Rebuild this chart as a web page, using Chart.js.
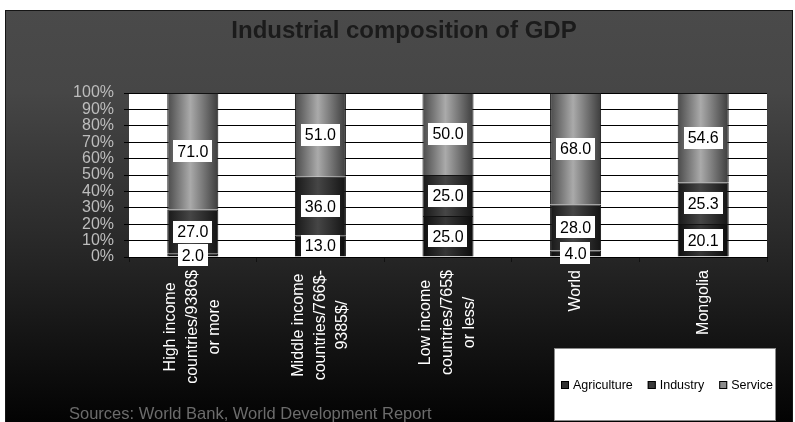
<!DOCTYPE html>
<html>
<head>
<meta charset="utf-8">
<script src="https://cdn.jsdelivr.net/npm/chart.js"></script>
<style>
  html, body { margin: 0; padding: 0; background: #fff; }
  #wrap { width: 795px; height: 422px; }
</style>
</head>
<body>
<div id="wrap"><canvas id="gdp" width="795" height="422"></canvas></div>
<script>
// chart values
const title = 'Industrial composition of GDP';
const source = 'Sources: World Bank, World Development Report';
const categories = [
  ['High income', 'countries/9386$', 'or more'],
  ['Middle income', 'countries/766$-', '9385$/'],
  ['Low income', 'countries/765$', 'or less/'],
  ['World'],
  ['Mongolia']
];
const agriculture = [2.0, 13.0, 25.0, 4.0, 20.1];
const industry = [27.0, 36.0, 25.0, 28.0, 25.3];
const service = [71.0, 51.0, 50.0, 68.0, 54.6];
const yTicks = [0, 10, 20, 30, 40, 50, 60, 70, 80, 90, 100];

const FONT = '"Liberation Sans", Arial, sans-serif';
const BAR_PCT = 0.4;

// cylinder look: horizontal gradient over each bar
function cylinder(stops, flat) {
  return function (ctx) {
    const chart = ctx.chart;
    const xs = chart.scales && chart.scales.x;
    if (!xs || !chart.chartArea || ctx.dataIndex === undefined) return flat;
    const cx = xs.getPixelForValue(ctx.dataIndex);
    const w = xs.width / categories.length * BAR_PCT;
    const g = chart.ctx.createLinearGradient(cx - w / 2, 0, cx + w / 2, 0);
    stops.forEach(s => g.addColorStop(s[0], s[1]));
    return g;
  };
}

const frame = {
  id: 'frame',
  beforeDraw(chart) {
    const c = chart.ctx;
    const a = chart.chartArea;
    c.save();
    c.fillStyle = '#fff';
    c.fillRect(0, 0, chart.width, chart.height);
    const g = c.createLinearGradient(0, 10, 0, 422);
    g.addColorStop(0, '#4a4a4a');
    g.addColorStop(0.2, '#464646');
    g.addColorStop(0.55, '#2a2a2a');
    g.addColorStop(0.8, '#141414');
    g.addColorStop(1, '#030303');
    c.fillStyle = g;
    c.fillRect(5, 10, 788, 412);
    c.strokeStyle = '#151515';
    c.lineWidth = 1;
    c.strokeRect(5.5, 10.5, 787, 412);
    c.fillStyle = '#fff';
    c.fillRect(a.left, a.top, a.right - a.left, a.bottom - a.top);
    // title
    c.font = 'bold 24px ' + FONT;
    c.fillStyle = '#1b1b1b';
    c.textAlign = 'center';
    c.textBaseline = 'middle';
    c.fillText(title, 404, 31);
    c.restore();
  },
  afterDatasetsDraw(chart) {
    const c = chart.ctx;
    c.save();
    c.font = '16px ' + FONT;
    c.textAlign = 'center';
    c.textBaseline = 'middle';
    chart.data.datasets.forEach((ds, i) => {
      chart.getDatasetMeta(i).data.forEach((el, j) => {
        const txt = ds.data[j].toFixed(1);
        const y = (el.y + el.base) / 2;
        const w = c.measureText(txt).width + 8;
        c.fillStyle = '#fff';
        c.fillRect(Math.round(el.x - w / 2), Math.round(y - 11), Math.round(w), 22);
        c.fillStyle = '#000';
        c.fillText(txt, el.x, y + 1);
      });
    });
    c.restore();
  },
  afterDraw(chart) {
    const c = chart.ctx;
    const xs = chart.scales.x;
    c.save();
    // rotated multi-line category labels
    c.font = '16px ' + FONT;
    c.fillStyle = '#fff';
    c.textAlign = 'center';
    c.textBaseline = 'middle';
    categories.forEach((lines, i) => {
      const cx = xs.getPixelForValue(i);
      const longest = Math.max(...lines.map(l => c.measureText(l).width));
      c.save();
      c.translate(cx, xs.top + 13 + longest / 2);
      c.rotate(-Math.PI / 2);
      lines.forEach((l, k) => c.fillText(l, 0, (k - (lines.length - 1) / 2) * 22));
      c.restore();
    });
    // source note
    c.font = '16.5px ' + FONT;
    c.fillStyle = '#6c6c6c';
    c.textAlign = 'left';
    c.textBaseline = 'alphabetic';
    c.fillText(source, 69, 419);
    // legend box
    c.fillStyle = '#fff';
    c.fillRect(554, 348, 222, 73);
    c.strokeStyle = '#8a8a8a';
    c.strokeRect(554.5, 348.5, 221, 72);
    c.font = '12.5px ' + FONT;
    c.textBaseline = 'middle';
    let x = 561;
    chart.data.datasets.forEach(ds => {
      c.fillStyle = ds.legendColor;
      c.fillRect(x, 381, 8, 8);
      c.strokeStyle = '#000';
      c.strokeRect(x + 0.5, 381.5, 7, 7);
      c.fillStyle = '#000';
      c.fillText(ds.label, x + 12, 386);
      x += 12 + c.measureText(ds.label).width + 15;
    });
    c.restore();
  }
};

new Chart(document.getElementById('gdp'), {
  type: 'bar',
  data: {
    labels: categories.map(l => l.join(' ')),
    datasets: [
      { label: 'Agriculture', data: agriculture, legendColor: '#333',
        backgroundColor: cylinder([[0, '#0e0e0e'], [0.45, '#363636'], [1, '#0c0c0c']], '#222') },
      { label: 'Industry', data: industry, legendColor: '#3a3a3a',
        backgroundColor: cylinder([[0, '#181818'], [0.45, '#464646'], [1, '#141414']], '#333') },
      { label: 'Service', data: service, legendColor: '#8c8c8c',
        backgroundColor: cylinder([[0, '#4a4a4a'], [0.45, '#aaaaaa'], [1, '#3c3c3c']], '#999') }
    ]
  },
  options: {
    responsive: false,
    animation: false,
    devicePixelRatio: 1,
    layout: { padding: { top: 93, right: 28, left: 0, bottom: 0 } },
    datasets: {
      bar: {
        barPercentage: BAR_PCT,
        categoryPercentage: 1,
        borderColor: '#111',
        borderWidth: 1,
        borderSkipped: 'start'
      }
    },
    plugins: {
      legend: { display: false },
      title: { display: false },
      tooltip: { enabled: false }
    },
    scales: {
      x: {
        stacked: true,
        afterFit(s) { s.height = 165; },
        ticks: { display: false },
        grid: { offset: true, drawOnChartArea: false, drawTicks: true, tickLength: 5, color: '#111' },
        border: { display: true, color: '#000', width: 1 }
      },
      y: {
        stacked: true,
        min: 0,
        max: 100,
        afterFit(s) { s.width = 129; },
        afterBuildTicks(s) { s.ticks = yTicks.map(v => ({ value: v })); },
        ticks: {
          autoSkip: false,
          padding: 10,
          color: '#bdbdbd',
          font: { family: FONT, size: 16 },
          callback: v => v + '%'
        },
        grid: { color: '#000', lineWidth: 1, drawTicks: true, tickLength: 5 },
        border: { display: false }
      }
    }
  },
  plugins: [frame]
});
</script>
</body>
</html>
